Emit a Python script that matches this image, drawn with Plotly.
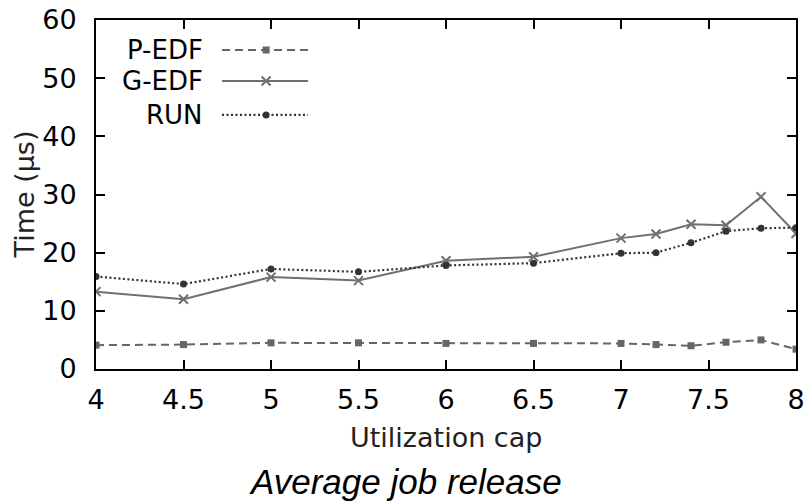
import plotly.graph_objects as go

# Utilization caps sampled
util_cap = [4, 4.5, 5, 5.5, 6, 6.5, 7, 7.2, 7.4, 7.6, 7.8, 8]

# Average job release time (µs) per scheduler
p_edf = [4.1, 4.2, 4.5, 4.5, 4.4, 4.4, 4.4, 4.2, 4.0, 4.6, 5.0, 3.4]
g_edf = [13.3, 12.0, 15.8, 15.2, 18.6, 19.3, 22.5, 23.2, 24.9, 24.7, 29.6, 23.3]
run = [15.9, 14.6, 17.2, 16.7, 17.8, 18.2, 19.9, 20.0, 21.7, 23.7, 24.2, 24.3]

x_ticks = [4, 4.5, 5, 5.5, 6, 6.5, 7, 7.5, 8]
x_tick_labels = ["4", "4.5", "5", "5.5", "6", "6.5", "7", "7.5", "8"]
y_ticks = [0, 10, 20, 30, 40, 50, 60]

series = [
    ("P-EDF", p_edf, dict(color="#666666", width=2, dash="8px,5px"),
     dict(symbol="square", size=7, color="#666666")),
    ("G-EDF", g_edf, dict(color="#707070", width=2, dash="solid"),
     dict(symbol="x-thin", size=9, color="#707070", line=dict(width=2, color="#707070"))),
    ("RUN", run, dict(color="#333333", width=2.2, dash="2px,2.5px"),
     dict(symbol="circle", size=7, color="#333333")),
]

FONT = "DejaVu Sans"
L, R, T, B = 96, 15, 20, 132
PW, PH = 811 - L - R, 501 - T - B

fig = go.Figure()

for name, vals, line, marker in series:
    fig.add_trace(go.Scatter(
        x=util_cap, y=vals, mode="lines+markers", name=name,
        line=line, marker=marker, showlegend=False,
    ))

# Key inside the plot: label right-aligned, line sample to its right
key_rows = [0.914, 0.825, 0.728]
for (name, vals, line, marker), ky in zip(series, key_rows):
    fig.add_trace(go.Scatter(
        x=[0.18, 0.303], y=[ky, ky], mode="lines", line=line,
        xaxis="x2", yaxis="y2", showlegend=False, hoverinfo="skip",
    ))
    fig.add_trace(go.Scatter(
        x=[0.243], y=[ky], mode="markers", marker=marker,
        xaxis="x2", yaxis="y2", showlegend=False, hoverinfo="skip",
    ))
    fig.add_annotation(
        x=0.155, y=ky, xref="x2", yref="y2", text=name, showarrow=False,
        xanchor="right", yanchor="middle",
        font=dict(family=FONT, size=26, color="black"),
    )

axis_common = dict(
    showline=True, linecolor="black", linewidth=2, mirror="ticks",
    ticks="inside", ticklen=9, tickwidth=2, tickcolor="black",
    showgrid=False, zeroline=False, automargin=False,
    tickfont=dict(family=FONT, size=27, color="black"),
)

fig.update_layout(
    width=811, height=501,
    margin=dict(l=L, r=R, t=T, b=B),
    paper_bgcolor="white", plot_bgcolor="white",
    xaxis=dict(
        range=[4, 8], tickmode="array", tickvals=x_ticks, ticktext=x_tick_labels,
        ticklabelstandoff=6, **axis_common,
    ),
    yaxis=dict(
        range=[0, 60], tickmode="array", tickvals=y_ticks,
        ticklabelstandoff=12, **axis_common,
    ),
    xaxis2=dict(range=[0, 1], overlaying="x", visible=False, fixedrange=True),
    yaxis2=dict(range=[0, 1], overlaying="y", visible=False, fixedrange=True),
    showlegend=False,
)

# Axis titles
fig.add_annotation(
    x=0.5, y=-(437 - (T + PH)) / PH, xref="paper", yref="paper",
    text="Utilization cap", showarrow=False, xanchor="center", yanchor="middle",
    font=dict(family=FONT, size=27, color="#222222"),
)
fig.add_annotation(
    x=(24 - L) / PW, y=0.5, xref="paper", yref="paper", textangle=-90,
    text="Time (µs)", showarrow=False, xanchor="center", yanchor="middle",
    font=dict(family=FONT, size=27, color="#222222"),
)

# Caption below the plot, centred on the page
fig.add_annotation(
    x=(405.5 - L) / PW, y=-(481 - (T + PH)) / PH, xref="paper", yref="paper",
    text="<i>Average job release</i>", showarrow=False,
    xanchor="center", yanchor="middle",
    font=dict(family="Liberation Sans", size=35, color="black"),
)

fig.write_html("out.html")
